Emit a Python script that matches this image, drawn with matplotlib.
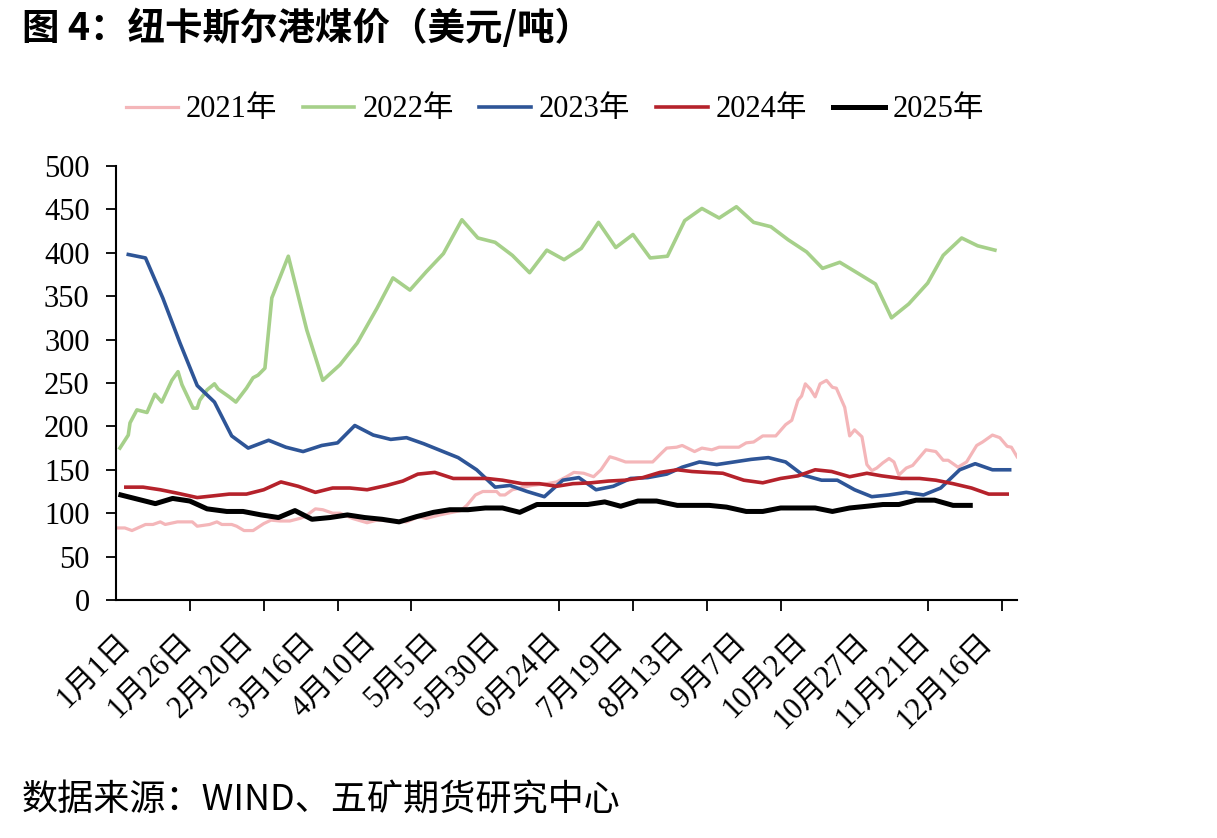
import numpy as np
import matplotlib.pyplot as plt
from matplotlib.ticker import MultipleLocator

# 纽卡斯尔港煤价（美元/吨），横轴为一年中的第几天（闰年 366 天）
tick_labels = ['1月1日', '1月26日', '2月20日', '3月16日', '4月10日', '5月5日', '5月30日',
               '6月24日', '7月19日', '8月13日', '9月7日', '10月2日', '10月27日', '11月21日', '12月16日']

# 2021年（日度）
d21 = [0, 3.6, 6.5, 12, 15, 18, 20, 25, 31, 33, 38, 41, 43, 47, 49, 52, 55.7, 60, 63, 66.6,
       70.6, 74.7, 76.7, 81, 84, 88, 91, 96, 102, 106, 112.5, 118, 123, 126, 131.5, 140, 142.5,
       146, 149, 154.6, 156, 158, 161, 164, 169, 175, 179, 183, 186, 190, 194, 197, 200.6, 203,
       207, 212.7, 218, 221.5, 223.7, 227.7, 230, 235, 238, 242, 245, 249, 253, 256, 259, 262.7,
       268, 272, 274.5, 277, 278.5, 280, 282, 284, 286, 288.6, 291, 292.6, 296, 298, 300, 303,
       305, 307, 309, 311.5, 314, 316, 318, 321, 323.6, 329, 333, 336, 338, 342, 345.5, 349.6,
       352, 356, 359, 362, 363.7, 366]
v21 = [83, 83, 80, 87, 87, 90, 87, 90, 90, 85, 87, 90, 87, 87, 85, 80, 80, 88, 92, 91,
       91, 94, 96, 105, 104, 100, 100, 94, 89, 92, 91, 90, 96, 94, 98, 103, 109,
       121, 125, 125, 121, 121, 127, 129, 132, 134, 136, 142, 147, 146, 142, 150, 165, 163,
       159, 159, 159, 169, 175, 176, 178, 171, 175, 173, 176, 176, 176, 181, 182, 189,
       189, 202, 207, 230, 235, 249, 243, 234, 249, 253, 245, 244, 222, 189, 196, 188,
       156, 149, 152, 158, 163, 159, 144, 152, 155, 173, 171, 161, 161, 153, 159, 178,
       182, 190, 187, 177, 176, 165]

# 2022年
d22 = [1.6, 5, 5.7, 8.5, 12.6, 15.8, 18.6, 22.7, 25.2, 26.8, 31.3, 33, 34, 37, 40, 41.5, 46,
       48.7, 53, 55.7, 57.7, 60.5, 63.3, 70, 77.5, 84, 91, 98, 106, 112.5, 119.4, 126, 133,
       140.5, 147, 154, 161, 168, 175, 182, 189, 196, 203, 210, 217, 224, 231, 238, 245, 252,
       259, 266, 273, 280.5, 287, 294, 301, 308.5, 315, 322, 329.7, 336, 343.5, 350, 357]
v22 = [175, 190, 204, 219, 216, 237, 228, 253, 263, 248, 221, 221, 230, 242, 249, 243, 234,
       228, 244, 256, 259, 267, 348, 396, 311, 253, 271, 296, 336, 371, 357, 378, 399,
       438, 417, 412, 397, 377, 403, 392, 405, 435, 406, 421, 394, 396, 437, 451, 440, 453,
       435, 430, 415, 401, 382, 389, 377, 364, 325, 341, 365, 397, 417, 408, 403]

# 2023年
d23 = [5, 12, 19, 26, 33, 40, 47, 53.7, 62, 69, 76, 83.6, 90, 97, 104.5, 111.6, 118, 125,
       132, 139, 146.5, 154, 160, 167, 174, 181.5, 188, 195, 202, 209, 216, 223.7, 230, 237,
       244, 251, 258, 265, 272, 279, 286.6, 293, 300, 307, 314, 321, 328, 335, 342.7, 349,
       356, 363]
v23 = [398, 394, 348, 296, 247, 228, 189, 175, 184, 176, 171, 178, 181, 201, 190, 185, 187, 180,
       172, 164, 150, 130, 132, 125, 119, 138, 141, 127, 131, 140, 141, 145, 153, 159,
       156, 159, 162, 164, 159, 144, 138, 138, 127, 119, 121, 124, 121, 129, 150, 157,
       150, 150]

# 2024年
d24 = [4, 11, 18, 25, 33, 39.6, 46, 53, 60, 67, 74, 81, 88, 95, 102, 110, 116.5, 122.6, 129.5,
       137, 144, 150.6, 157, 165, 172, 179, 185.6, 193, 200, 206.7, 214, 221, 228, 234, 240,
       246.5, 255, 262.7, 270, 277, 284, 290.7, 298, 305, 311, 319, 326.4, 333, 340, 347.5,
       354.5, 362]
v24 = [130, 130, 127, 123, 118, 120, 122, 122, 127, 136, 131, 124, 129, 129, 127, 132, 137, 145, 147,
       140, 140, 140, 138, 134, 134, 131, 134, 135, 137, 138, 141, 147, 150, 148, 147,
       146, 138, 135, 140, 143, 150, 148, 142, 146, 143, 140, 140, 138, 134, 129,
       122, 122]

# 2025年
d25 = [2, 9, 16, 23, 30, 37, 45, 51.6, 59, 66, 72.7, 79.6, 87, 94, 101, 108, 115, 122, 129,
       135.6, 143, 150, 157, 164, 171, 178, 185, 191.6, 198.5, 205, 212, 219.6, 228, 234, 241,
       248, 256, 262.7, 270, 277, 284, 291, 298, 305, 311.5, 318, 325, 332.5, 340, 347]
v25 = [121, 116, 111, 117, 114, 105, 102, 102, 98, 95, 103, 93, 95, 98, 95, 93, 90, 96, 101,
       104, 104, 106, 106, 101, 110, 110, 110, 110, 113, 108, 114, 114, 109, 109, 109,
       107, 102, 102, 106, 106, 106, 102, 106, 108, 110, 110, 115, 115, 109, 109]

num_font = ['Liberation Serif', 'Noto Sans CJK SC']
plt.rcParams['font.family'] = num_font

fig = plt.figure(figsize=(12.17, 8.38), dpi=100)
ax = fig.add_axes([0.0953, 0.284, 0.7404, 0.518])

ax.plot(d21, v21, color='#F4B6B9', lw=2.3, label='2021年')
ax.plot(d22, v22, color='#A6D08A', lw=2.6, label='2022年')
ax.plot(d23, v23, color='#2E5597', lw=2.6, label='2023年')
ax.plot(d24, v24, color='#B5222B', lw=2.6, label='2024年')
ax.plot(d25, v25, color='#000000', lw=3.6, label='2025年')

ax.set_xlim(0, 366)
ax.set_ylim(0, 500)
ax.yaxis.set_major_locator(MultipleLocator(50))
ax.tick_params(axis='y', length=7, width=1.3, labelsize=22, pad=12, direction='out')

ax.set_xticks(np.arange(0, 351, 25))
ax.set_xticklabels(tick_labels, rotation=45, ha='right', rotation_mode='anchor')
ax.set_xticks(np.arange(0, 361, 30), minor=True)
ax.tick_params(axis='x', which='major', length=0, labelsize=22, pad=20)
ax.tick_params(axis='x', which='minor', length=8, width=1.3, direction='out')

for s in ['top', 'right']:
    ax.spines[s].set_visible(False)
for s in ['left', 'bottom']:
    ax.spines[s].set_linewidth(1.5)

fig.legend(loc='center', bbox_to_anchor=(0.456, 0.869), ncol=5, frameon=False,
           fontsize=22, handlelength=1.7, handletextpad=0.25, columnspacing=0.85)

fig.text(0.018, 0.966, '图 4：纽卡斯尔港煤价（美元/吨）', fontsize=27, fontweight='bold',
         family=['Noto Sans CJK SC', 'DejaVu Sans'], va='center', ha='left')
fig.text(0.018, 0.045, '数据来源：WIND、五矿期货研究中心', fontsize=26,
         family=['Noto Sans CJK SC', 'DejaVu Sans'], va='center', ha='left')

fig.savefig('out.png', dpi=100)
